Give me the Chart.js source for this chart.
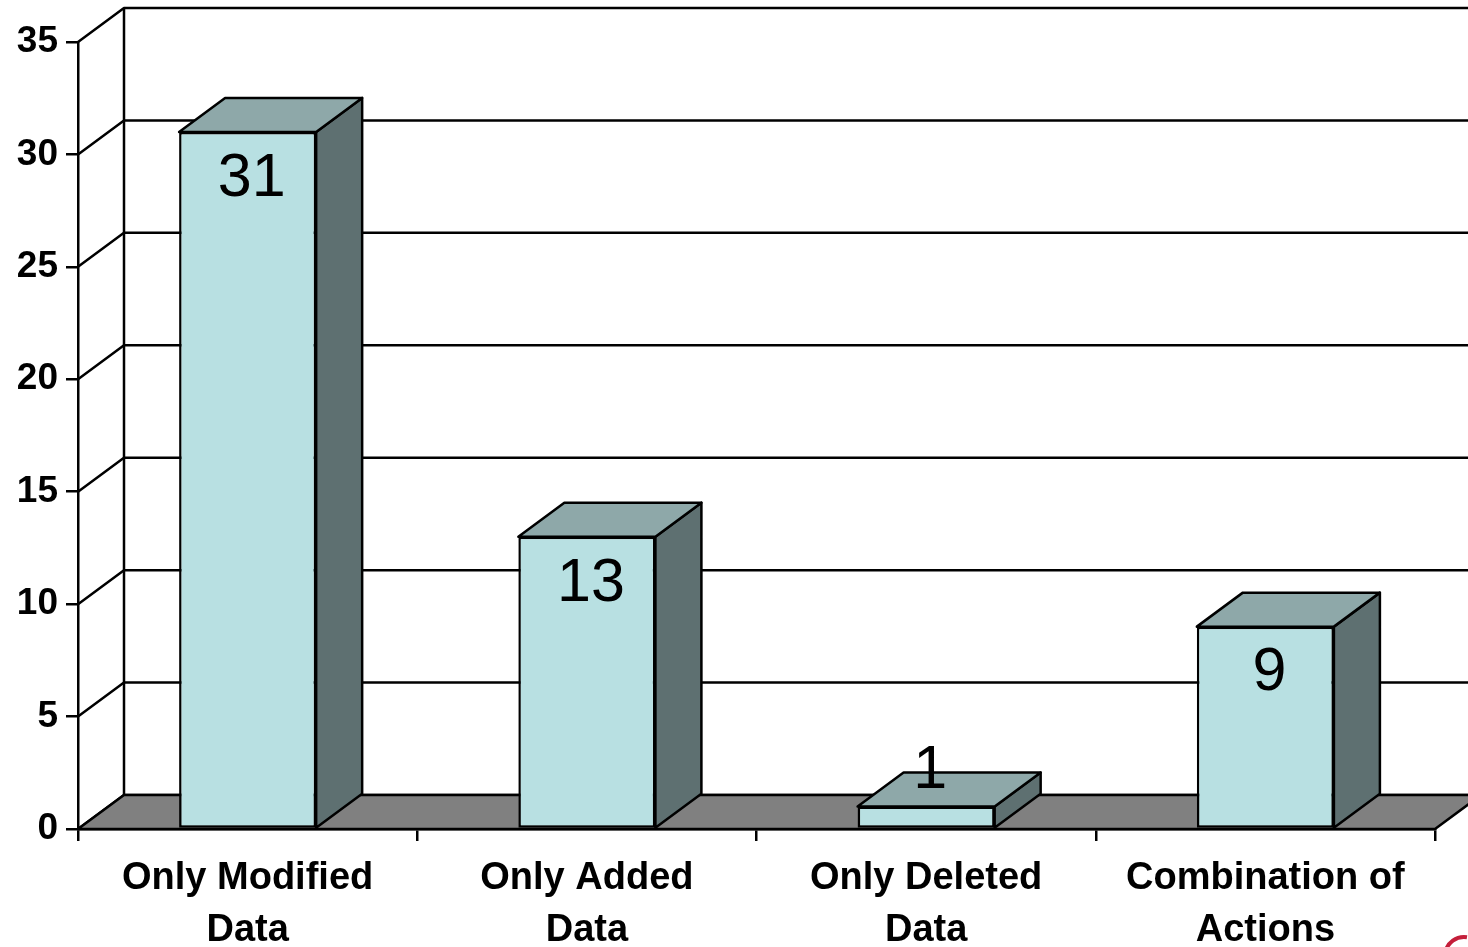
<!DOCTYPE html>
<html>
<head>
<meta charset="utf-8">
<script src="https://cdn.jsdelivr.net/npm/chart.js@4.4.0/dist/chart.umd.min.js"></script>
<style>
  html, body { margin: 0; padding: 0; background: #fff; }
  .wrap { width: 1468px; height: 947px; }
</style>
</head>
<body>
<div class="wrap"><canvas id="actionsChart" width="1468" height="947"></canvas></div>
<script>
// Data
const categories = [['Only Modified', 'Data'], ['Only Added', 'Data'], ['Only Deleted', 'Data'], ['Combination of', 'Actions']];
const counts = [31, 13, 1, 9];
const yTicks = [0, 5, 10, 15, 20, 25, 30, 35];

// 3D look
const DX = 46;
const DY = 34;
const LW = 2.5;
const frontColor = '#b8e0e2';
const topColor = '#8ea8a9';
const sideColor = '#5e7071';
const floorColor = '#808080';

const depth3d = {
    id: 'depth3d',
    beforeDatasetsDraw(chart) {
        const ctx = chart.ctx;
        const area = chart.chartArea;
        const y = chart.scales.y;
        const x0 = area.left, x1 = area.right;
        const yb = y.getPixelForValue(0);
        ctx.save();
        ctx.lineWidth = LW;
        ctx.lineJoin = 'round';
        ctx.strokeStyle = '#000';

        // Back wall grid lines and side wall diagonals
        yTicks.forEach(v => {
            const py = y.getPixelForValue(v);
            ctx.beginPath();
            ctx.moveTo(x0, py);
            ctx.lineTo(x0 + DX, py - DY);
            ctx.lineTo(chart.width, py - DY);
            ctx.stroke();
        });
        // Back wall left edge
        ctx.beginPath();
        ctx.moveTo(x0 + DX, y.getPixelForValue(35) - DY);
        ctx.lineTo(x0 + DX, yb - DY);
        ctx.stroke();

        // Floor
        ctx.beginPath();
        ctx.moveTo(x0, yb);
        ctx.lineTo(x1, yb);
        ctx.lineTo(x1 + DX, yb - DY);
        ctx.lineTo(x0 + DX, yb - DY);
        ctx.closePath();
        ctx.fillStyle = floorColor;
        ctx.fill();
        ctx.stroke();
        ctx.restore();
    },
    afterDatasetsDraw(chart) {
        const ctx = chart.ctx;
        const meta = chart.getDatasetMeta(0);
        ctx.save();
        ctx.lineWidth = LW;
        ctx.lineJoin = 'round';
        ctx.strokeStyle = '#000';
        meta.data.forEach(bar => {
            const left = bar.x - bar.width / 2;
            const right = bar.x + bar.width / 2;
            const top = bar.y;
            const base = bar.base;
            // side face
            ctx.beginPath();
            ctx.moveTo(right, top);
            ctx.lineTo(right + DX, top - DY);
            ctx.lineTo(right + DX, base - DY);
            ctx.lineTo(right, base);
            ctx.closePath();
            ctx.fillStyle = sideColor;
            ctx.fill();
            ctx.stroke();
            // top face
            ctx.beginPath();
            ctx.moveTo(left, top);
            ctx.lineTo(left + DX, top - DY);
            ctx.lineTo(right + DX, top - DY);
            ctx.lineTo(right, top);
            ctx.closePath();
            ctx.fillStyle = topColor;
            ctx.fill();
            ctx.stroke();
        });

        // Value labels
        ctx.fillStyle = '#000';
        ctx.font = '61px "Liberation Sans", Arial, sans-serif';
        ctx.textAlign = 'center';
        ctx.textBaseline = 'middle';
        meta.data.forEach((bar, i) => {
            const h = bar.base - bar.y;
            const ly = h > 90 ? bar.y + 47 : bar.y - 35;
            ctx.fillText(String(counts[i]), bar.x + 4, ly);
        });

        // Cut-off logo arc in the corner
        ctx.beginPath();
        ctx.strokeStyle = '#c41e3a';
        ctx.lineWidth = 4;
        ctx.arc(1464, 956, 19, Math.PI * 1.05, Math.PI * 1.55);
        ctx.stroke();
        ctx.restore();
    }
};

const ctx = document.getElementById('actionsChart').getContext('2d');
new Chart(ctx, {
    type: 'bar',
    data: {
        labels: categories,
        datasets: [{
            data: counts,
            backgroundColor: frontColor,
            borderColor: '#000',
            borderWidth: LW,
            borderSkipped: false,
            categoryPercentage: 1,
            barPercentage: 0.404
        }]
    },
    options: {
        responsive: false,
        animation: false,
        layout: { padding: { top: 42, right: 33, bottom: 0, left: 0 } },
        plugins: {
            legend: { display: false },
            tooltip: { enabled: false }
        },
        scales: {
            x: {
                afterFit: scale => { scale.height = 118; },
                grid: {
                    display: true,
                    drawOnChartArea: false,
                    drawTicks: true,
                    tickLength: 12,
                    color: '#000',
                    lineWidth: LW
                },
                border: { display: true, color: '#000', width: LW },
                ticks: {
                    color: '#000',
                    padding: 11,
                    maxRotation: 0,
                    font: { family: '"Liberation Sans", Arial, sans-serif', size: 38, weight: 'bold', lineHeight: 1.37 }
                }
            },
            y: {
                min: 0,
                max: 35,
                afterFit: scale => { scale.width = 78; },
                grid: {
                    display: true,
                    drawOnChartArea: false,
                    drawTicks: true,
                    tickLength: 12,
                    color: '#000',
                    lineWidth: LW
                },
                border: { display: true, color: '#000', width: LW },
                ticks: {
                    stepSize: 5,
                    color: '#000',
                    padding: 8,
                    font: { family: '"Liberation Sans", Arial, sans-serif', size: 37, weight: 'bold' }
                }
            }
        }
    },
    plugins: [depth3d]
});
</script>
</body>
</html>
